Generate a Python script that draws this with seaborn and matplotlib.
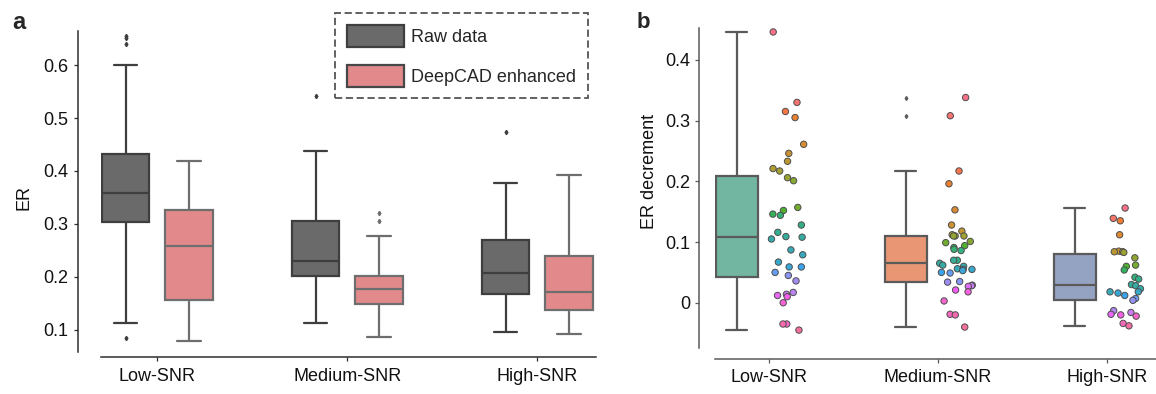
import numpy as np
import pandas as pd
import matplotlib
matplotlib.use("Agg")
import matplotlib.pyplot as plt
import seaborn as sns
from matplotlib.patches import Patch
from matplotlib.ticker import FuncFormatter

# ---------------- data ----------------
groups = ["Low-SNR", "Medium-SNR", "High-SNR"]
conditions = ["Raw data", "DeepCAD enhanced"]

# panel a: ER values
raw_low = [0.084, 0.113, 0.19, 0.24, 0.28, 0.304, 0.31, 0.325, 0.34, 0.35, 0.3575,
           0.37, 0.39, 0.405, 0.42, 0.433, 0.48, 0.601, 0.640, 0.651, 0.656]
raw_medium = [0.1126, 0.14, 0.165, 0.18, 0.193, 0.2008, 0.205, 0.21, 0.217, 0.223, 0.229,
              0.24, 0.255, 0.27, 0.29, 0.3047, 0.32, 0.35, 0.39, 0.438, 0.541]
raw_high = [0.095, 0.12, 0.14, 0.152, 0.161, 0.1674, 0.175, 0.185, 0.193, 0.2, 0.207,
            0.215, 0.228, 0.24, 0.255, 0.2688, 0.285, 0.31, 0.34, 0.377, 0.4728]
deepcad_low = [0.0786, 0.10, 0.12, 0.135, 0.148, 0.1554, 0.17, 0.19, 0.215, 0.24, 0.2587,
               0.27, 0.285, 0.30, 0.315, 0.327, 0.34, 0.355, 0.37, 0.395, 0.419]
deepcad_medium = [0.0861, 0.105, 0.12, 0.133, 0.142, 0.149, 0.155, 0.16, 0.166, 0.172, 0.1768,
                  0.18, 0.185, 0.19, 0.196, 0.202, 0.225, 0.25, 0.2776, 0.3047, 0.3204]
deepcad_high = [0.0906, 0.105, 0.115, 0.125, 0.132, 0.1378, 0.145, 0.152, 0.158, 0.165, 0.1705,
                0.18, 0.195, 0.21, 0.225, 0.2398, 0.26, 0.29, 0.32, 0.355, 0.3916]

# panel b: ER decrement values
dec_low = [0.446, 0.330, 0.315, 0.305, 0.261, 0.246, 0.233, 0.221, 0.217, 0.206, 0.201,
           0.157, 0.152, 0.146, 0.144, 0.128, 0.116, 0.109, 0.108, 0.105, 0.087, 0.079,
           0.067, 0.059, 0.059, 0.050, 0.045, 0.036, 0.017, 0.014, 0.012, 0.010, 0.000,
           -0.035, -0.035, -0.045]
dec_medium = [0.338, 0.308, 0.217, 0.196, 0.153, 0.128, 0.118, 0.112, 0.110, 0.110,
              0.110, 0.101, 0.099, 0.094, 0.091, 0.088, 0.086, 0.070, 0.070, 0.065,
              0.062, 0.060, 0.056, 0.055, 0.055, 0.053, 0.050, 0.049, 0.035, 0.034,
              0.029, 0.028, 0.027, 0.021, 0.018, 0.003, -0.019, -0.020, -0.040]
dec_high = [0.156, 0.139, 0.135, 0.112, 0.085, 0.084, 0.084, 0.083, 0.074, 0.062,
            0.060, 0.054, 0.042, 0.039, 0.030, 0.028, 0.023, 0.018, 0.018, 0.016,
            0.012, 0.007, 0.004, -0.013, -0.016, -0.019, -0.020, -0.022, -0.034, -0.038]

a_yticks = [0.1, 0.2, 0.3, 0.4, 0.5, 0.6]
b_yticks = [0.0, 0.1, 0.2, 0.3, 0.4]

# ---------------- style ----------------
sns.set_theme(style="ticks")
plt.rcParams["font.family"] = ["Liberation Sans", "DejaVu Sans"]

W, H = 1156, 394
fig = plt.figure(figsize=(W / 100, H / 100), dpi=100)
axA = fig.add_axes([101 / W, 1 - 351.7 / H, 495 / W, 321 / H])
axB = fig.add_axes([715 / W, 1 - 348.3 / H, 441 / W, 320.6 / H])

# ---------------- panel a ----------------
rows = []
for cond, sets in zip(conditions, [[raw_low, raw_medium, raw_high],
                                   [deepcad_low, deepcad_medium, deepcad_high]]):
    for g, vals in zip(groups, sets):
        for v in vals:
            rows.append((g, cond, v))
dfA = pd.DataFrame(rows, columns=["snr", "cond", "er"])

face = {"Raw data": "#6a6a6a", "DeepCAD enhanced": "#e2898b"}
edge = {"Raw data": "#3e3e3e", "DeepCAD enhanced": "#6e6e6e"}
for cond in conditions:
    sub = dfA[dfA["cond"] == cond]
    sns.boxplot(data=sub, x="snr", y="er", hue="cond", order=groups, hue_order=conditions,
                palette=face, dodge=True, width=0.668, gap=0.25, saturation=1,
                linecolor=edge[cond], linewidth=1.6, fliersize=2.2,
                flierprops=dict(marker="d", markerfacecolor=edge[cond],
                                markeredgecolor=edge[cond]),
                legend=False, ax=axA)

axA.set_xlim(-0.296, 2.309)
axA.set_ylim(0.058, 0.6654)
axA.set_yticks(a_yticks)
axA.yaxis.set_major_formatter(FuncFormatter(lambda v, p: f"{v:g}"))
axA.set_xlabel("")
axA.set_ylabel("ER", fontsize=13, color="#111111")
axA.yaxis.set_label_coords(-0.138, 0.481)

handles = [Patch(facecolor=face[c], edgecolor="#3e3e3e" if c == "Raw data" else "#474747",
                 linewidth=1.6) for c in conditions]
leg = axA.legend(handles, conditions, loc="upper right", bbox_to_anchor=(0.984, 1.054),
                 borderaxespad=0, fontsize=13, handlelength=3.2, handleheight=1.48,
                 handletextpad=0.38, labelspacing=1.0, borderpad=0.65,
                 frameon=True, fancybox=False)
fr = leg.get_frame()
fr.set_edgecolor("#555555")
fr.set_linestyle((0, (4, 2)))
fr.set_linewidth(1.3)
fr.set_facecolor("white")
fr.set_alpha(1)

# ---------------- panel b ----------------
dec_sets = [dec_low, dec_medium, dec_high]
box_rows, strip_rows = [], []
pal = {}
for i, (g, vals) in enumerate(zip(groups, dec_sets)):
    order = sorted(vals, reverse=True)
    cols = sns.color_palette("husl", len(order))
    for r, v in enumerate(order):
        key = f"{g}-{r}"
        pal[key] = cols[r]
        strip_rows.append((i + 0.11, v, key))
    for v in vals:
        box_rows.append((i - 0.19, v, g))
dfBox = pd.DataFrame(box_rows, columns=["pos", "dec", "snr"])
dfStrip = pd.DataFrame(strip_rows, columns=["pos", "dec", "key"])

sns.boxplot(data=dfBox, x="pos", y="dec", hue="snr", hue_order=groups, palette="Set2",
            native_scale=True, width=0.25, dodge=False, linecolor="#5a5a5a", linewidth=1.6,
            fliersize=2.0, flierprops=dict(marker="d", markerfacecolor="#5a5a5a",
                                           markeredgecolor="#5a5a5a"),
            legend=False, ax=axB)
np.random.seed(7)
sns.stripplot(data=dfStrip, x="pos", y="dec", hue="key", palette=pal, native_scale=True,
              jitter=0.1, size=4.6, linewidth=0.7, edgecolor="#4d4d4d", legend=False, ax=axB)

axB.set_xlim(-0.319, 2.29)
axB.set_ylim(-0.075, 0.453)
axB.set_xticks([0, 1, 2])
axB.set_xticklabels(groups)
axB.set_yticks(b_yticks)
axB.yaxis.set_major_formatter(FuncFormatter(lambda v, p: f"{v:g}"))
axB.set_xlabel("")
axB.set_ylabel("ER decrement", fontsize=13, color="#111111")
axB.yaxis.set_label_coords(-0.130, 0.551)

# ---------------- spines / ticks ----------------
for ax, col, loff, boff, xpad, ypad in [(axA, "#2e2e2e", 16.3, 4.0, 5.0, 4.0),
                                        (axB, "#5a5a5a", 11.5, 7.7, 4.2, 3.0)]:
    sns.despine(ax=ax)
    ax.spines["left"].set_position(("outward", loff))
    ax.spines["bottom"].set_position(("outward", boff))
    for s in ("left", "bottom"):
        ax.spines[s].set_color(col)
        ax.spines[s].set_linewidth(1.1)
    ax.tick_params(axis="both", labelsize=13, colors="#111111", length=3, width=0.9)
    ax.tick_params(axis="x", pad=xpad, color=col)
    ax.tick_params(axis="y", pad=ypad, color=col)
    ax.set_facecolor("none")

fig.text(12.7 / W, 1 - 29.3 / H, "a", fontsize=17, fontweight="bold", ha="left", va="baseline")
fig.text(636.7 / W, 1 - 28.3 / H, "b", fontsize=16, fontweight="bold", ha="left", va="baseline")

fig.savefig("out.png", dpi=100)
